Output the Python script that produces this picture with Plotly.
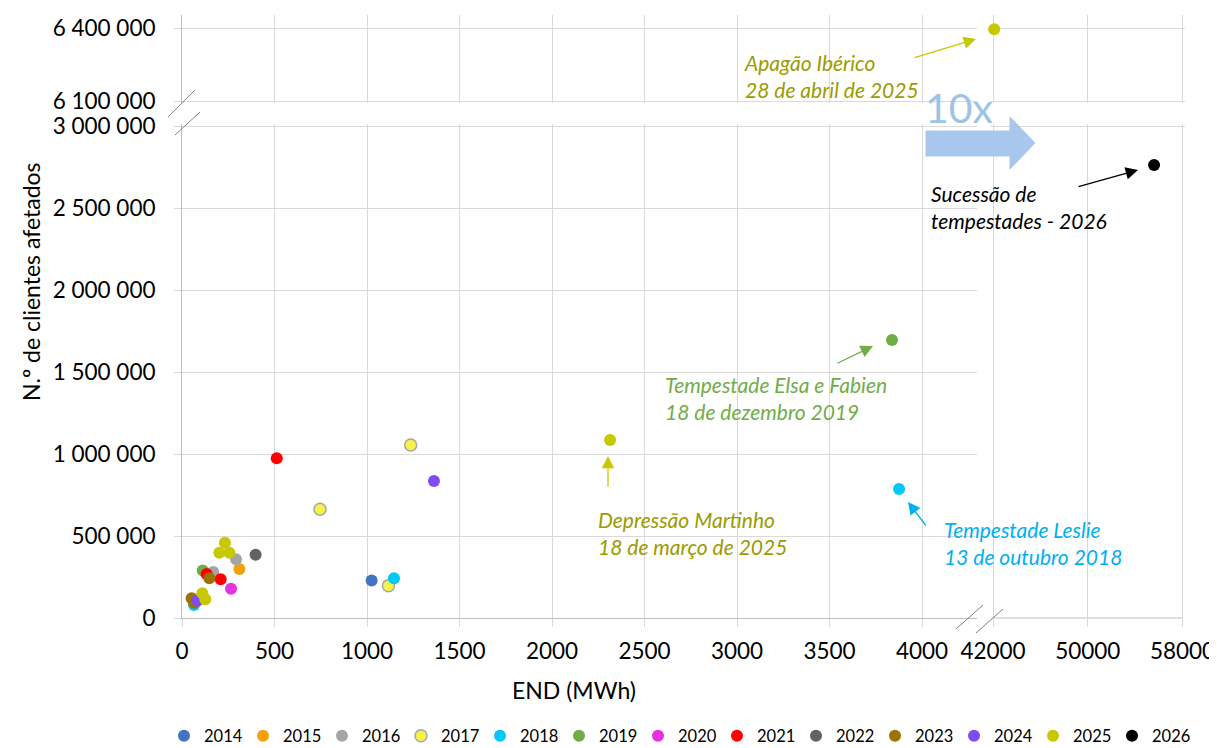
import plotly.graph_objects as go

# ---------------- data ----------------
YEARS = ["2014", "2015", "2016", "2017", "2018", "2019", "2020",
         "2021", "2022", "2023", "2024", "2025", "2026"]
COLORS = ["#4472c4", "#f5a00a", "#a5a5a5", "#f7f24a", "#00c8f8", "#70ad47", "#e633e0",
          "#ff0000", "#636363", "#9c7200", "#7f4cf2", "#c8c800", "#000000"]

end_2014 = [1025];                 cli_2014 = [228000]
end_2015 = [310];                  cli_2015 = [299000]
end_2016 = [292, 169];             cli_2016 = [358000, 280000]
end_2017 = [1236, 746, 1116];      cli_2017 = [1055000, 663000, 197000]
end_2018 = [1146, 65, 3876];       cli_2018 = [242000, 79000, 787000]
end_2019 = [112, 3838];            cli_2019 = [289000, 1695000]
end_2020 = [265];                  cli_2020 = [179000]
end_2021 = [512, 133, 209];        cli_2021 = [974000, 268000, 236000]
end_2022 = [398];                  cli_2022 = [386000]
end_2023 = [148, 52, 65];          cli_2023 = [242000, 120000, 93000]
end_2024 = [1362, 83];             cli_2024 = [835000, 105000]
end_2025 = [232, 202, 256, 110, 126, 2314, 42100]
cli_2025 = [459000, 398000, 398000, 151000, 114000, 1085000, 6395000]
end_2026 = [55600];                cli_2026 = [2762000]

END = [end_2014, end_2015, end_2016, end_2017, end_2018, end_2019, end_2020,
       end_2021, end_2022, end_2023, end_2024, end_2025, end_2026]
CLI = [cli_2014, cli_2015, cli_2016, cli_2017, cli_2018, cli_2019, cli_2020,
       cli_2021, cli_2022, cli_2023, cli_2024, cli_2025, cli_2026]

X_LEFT_TICKS = [0, 500, 1000, 1500, 2000, 2500, 3000, 3500, 4000]
X_RIGHT_TICKS = [42000, 50000, 58000]
Y_LOW_TICKS = [0, 500000, 1000000, 1500000, 2000000, 2500000, 3000000]
Y_UP_TICKS = [6100000, 6400000]

# ---------------- layout geometry ----------------
# The page has an 8px body margin; the figure is sized to fill the window.
OFF = 8
FW, FH = 1217 - OFF, 748 - OFF


def px(x):          # page pixel -> paper fraction (margins are zero)
    return (x - OFF) / FW


def py(y):
    return (FH - (y - OFF)) / FH


# left panel: 0 -> 182px, 4000 -> 922px
XL_DOM = [px(182), px(977)]
XL_RANGE = [0, 4000 * (977 - 182) / (922 - 182)]
# right panel: 42000 -> 993px, 58000 -> 1182.5px (padded so edge gridlines show)
_u = 16000 / (1182.5 - 993)
XR_DOM = [px(991), px(1185)]
XR_RANGE = [42000 - 2 * _u, 58000 + 2.5 * _u]
# lower panel: 0 -> 618px, 3 000 000 -> 126px
_v = 3000000 / (618 - 126)
YL_DOM = [py(618), py(124)]
YL_RANGE = [0, 3000000 + 2 * _v]
# upper panel: 6 100 000 -> 101px, 6 400 000 -> 28px, top at 15px
_w = 300000 / (101 - 28)
YU_DOM = [py(103), py(15)]
YU_RANGE = [6100000 - 2 * _w, 6100000 + (101 - 15) * _w]

FONT = "Lato"
GRID = "#d9d9d9"
LINE = "#bfbfbf"

fig = go.Figure()

panels = [("x", "y"), ("x2", "y2"), ("x3", "y3"), ("x4", "y4")]

for i, yr in enumerate(YEARS):
    buckets = {p: ([], []) for p in panels}
    for xv, yv in zip(END[i], CLI[i]):
        right = xv > 20000
        up = yv > 4000000
        key = panels[(1 if right else 0) + (2 if up else 0)]
        buckets[key][0].append(xv)
        buckets[key][1].append(yv)
    shown = False
    for p in panels:
        xs, ys = buckets[p]
        if not xs:
            continue
        line = dict(color="#a5a5a5", width=1.5) if yr == "2017" else dict(width=0)
        fig.add_trace(go.Scatter(
            x=xs, y=ys, xaxis=p[0], yaxis=p[1], mode="markers", name=yr,
            legendgroup=yr, showlegend=not shown, cliponaxis=False,
            marker=dict(size=12, color=COLORS[i], line=line),
            hoverinfo="x+y+name"))
        shown = True

# empty trace so the upper-left panel (axis break area) is drawn
fig.add_trace(go.Scatter(x=[None], y=[None], xaxis="x3", yaxis="y3", mode="markers",
                         showlegend=False, hoverinfo="skip"))

TICKFONT = dict(family=FONT, size=22.5, color="#000")
common_x = dict(showgrid=True, gridcolor=GRID, gridwidth=1, zeroline=False,
                tickfont=TICKFONT, tickformat="d", automargin=False)
common_y = dict(showgrid=True, gridcolor=GRID, gridwidth=1, zeroline=False,
                tickfont=TICKFONT, tickformat=",d", automargin=False)

fig.update_layout(
    width=FW, height=FH,
    margin=dict(l=0, r=0, t=0, b=0, autoexpand=False),
    paper_bgcolor="white", plot_bgcolor="white",
    separators=", ",
    font=dict(family=FONT, color="#000"),
    xaxis=dict(domain=XL_DOM, range=XL_RANGE, anchor="y", tickvals=X_LEFT_TICKS,
               showline=True, linecolor=LINE, ticks="outside", ticklen=8,
               tickcolor=GRID, ticklabelstandoff=5, **common_x),
    yaxis=dict(domain=YL_DOM, range=YL_RANGE, anchor="x", tickvals=Y_LOW_TICKS,
               showline=True, linecolor=LINE, ticks="outside", ticklen=7,
               tickcolor=GRID, ticklabelstandoff=14, **common_y),
    xaxis2=dict(domain=XR_DOM, range=XR_RANGE, anchor="y2", tickvals=X_RIGHT_TICKS,
                showline=False, ticks="outside", ticklen=8,
                tickcolor=GRID, ticklabelstandoff=5, **common_x),
    yaxis2=dict(domain=YL_DOM, range=YL_RANGE, anchor="x2", tickvals=[0, 3000000],
                showticklabels=False, showline=False, ticks="", **common_y),
    xaxis3=dict(domain=XL_DOM, range=XL_RANGE, anchor="y3", tickvals=X_LEFT_TICKS,
                showticklabels=False, showline=False, ticks="", **common_x),
    yaxis3=dict(domain=YU_DOM, range=YU_RANGE, anchor="x3", tickvals=Y_UP_TICKS,
                showline=True, linecolor=LINE, ticks="outside", ticklen=7,
                tickcolor=GRID, ticklabelstandoff=14, **common_y),
    xaxis4=dict(domain=XR_DOM, range=XR_RANGE, anchor="y4", tickvals=X_RIGHT_TICKS,
                showticklabels=False, showline=False, ticks="", **common_x),
    yaxis4=dict(domain=YU_DOM, range=YU_RANGE, anchor="x4", tickvals=Y_UP_TICKS,
                showticklabels=False, showline=False, ticks="", **common_y),
    legend=dict(orientation="h", xref="container", yref="container",
                x=(164 - OFF) / FW, xanchor="left",
                y=(748 - 736) / FH, yanchor="middle",
                entrywidth=34, entrywidthmode="pixels",
                font=dict(family=FONT, size=16.5, color="#000"),
                itemclick=False, tracegroupgap=0),
    showlegend=True,
)

annos = []
# axis titles
annos.append(dict(text="N.º de clientes afetados", x=px(31), y=py(282), xref="paper",
                  yref="paper", xanchor="center", yanchor="middle",
                  showarrow=False, textangle=-90,
                  font=dict(family=FONT, size=23, color="#000")))
annos.append(dict(text="END (MWh)", x=px(574), y=py(690), xref="paper", yref="paper",
                  xanchor="center", yanchor="middle",
                  showarrow=False, font=dict(family=FONT, size=23, color="#000")))

OLIVE = "#9b9b00"


def label(text, x, y, color):
    annos.append(dict(text="<i>" + text + "</i>", x=px(x), y=py(y), xref="paper",
                      yref="paper", xanchor="left", yanchor="middle", align="left",
                      showarrow=False, font=dict(family=FONT, size=21, color=color)))


def arrow(tail, tip, color):
    annos.append(dict(text="", x=px(tip[0]), y=py(tip[1]), xref="paper", yref="paper",
                      ax=tail[0] - tip[0], ay=tail[1] - tip[1], showarrow=True,
                      arrowhead=2, arrowsize=1.9, arrowwidth=1.3, arrowcolor=color,
                      standoff=0, startstandoff=0))


label("Apagão Ibérico<br>28 de abril de 2025", 742, 76, OLIVE)
arrow((913, 58), (976, 39), "#c8c800")
label("Sucessão de<br>tempestades - 2026", 929, 207, "#000000")
arrow((1077, 187), (1138, 170), "#000000")
label("Tempestade Elsa e Fabien<br>18 de dezembro 2019", 663, 398, "#70ad47")
arrow((836, 364), (873, 346), "#70ad47")
label("Depressão Martinho<br>18 de março de 2025", 596, 533, OLIVE)
arrow((608, 488), (608, 456), "#c8c800")
label("Tempestade Leslie<br>13 de outubro 2018", 942, 543, "#00b0f0")
arrow((927, 527), (908, 502), "#00b0f0")

# 10x label
annos.append(dict(text="10x", x=px(923), y=py(108), xref="paper", yref="paper",
                  xanchor="left", yanchor="middle", showarrow=False,
                  font=dict(family=FONT, size=41, color="#9dc3e6")))

fig.update_layout(annotations=annos)

# block arrow
pts = [(926, 131), (1010, 131), (1010, 117), (1035, 143), (1010, 169), (1010, 156), (926, 156)]
path = "M " + " L ".join(f"{px(a):.5f},{py(b):.5f}" for a, b in pts) + " Z"
shapes = [dict(type="path", path=path, xref="paper", yref="paper",
               fillcolor="#a9c6ec", line=dict(color="#a9c6ec", width=1))]

# bottom axis line of the right panel (42000 .. 58000)
shapes.append(dict(type="line", xref="x2", yref="paper", x0=42000, x1=58000,
                   y0=py(618), y1=py(618), line=dict(color=LINE, width=1)))

# axis break marks
for (x0, y0, x1, y1) in [(168, 117, 195, 90), (175, 135, 200, 112),
                         (956, 629, 983, 605), (976, 633, 1003, 609)]:
    shapes.append(dict(type="line", xref="paper", yref="paper",
                       x0=px(x0), y0=py(y0), x1=px(x1), y1=py(y1),
                       line=dict(color="#808080", width=1)))

fig.update_layout(shapes=shapes)

fig.write_html("out.html")
